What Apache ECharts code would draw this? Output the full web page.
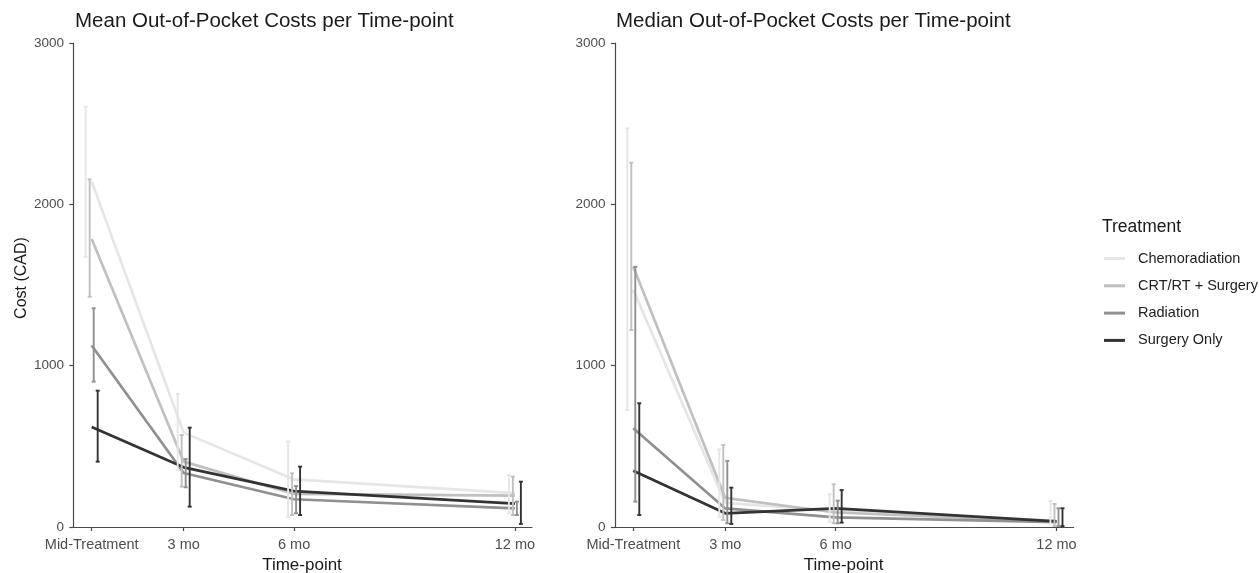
<!DOCTYPE html>
<html>
<head>
<meta charset="utf-8">
<script src="https://cdn.jsdelivr.net/npm/echarts@6/dist/echarts.min.js"></script>
<style>
html,body{margin:0;padding:0;background:#fff;}
#chart{width:1259px;height:573px;}
</style>
</head>
<body>
<div id="chart"></div>
<script>
// ---- data ----
const timepoints = [0.5, 3, 6, 12];
const tickLabels = ['Mid-Treatment', '3 mo', '6 mo', '12 mo'];
const yTicks = [0, 1000, 2000, 3000];
const treatments = ['Chemoradiation', 'CRT/RT + Surgery', 'Radiation', 'Surgery Only'];

// Mean panel
const meanChemo     = [2140, 585, 295, 210];
const meanChemoLo   = [1675, 352, 64, 85];
const meanChemoHi   = [2605, 825, 530, 322];
const meanCRT       = [1785, 405, 205, 195];
const meanCRTLo     = [1427, 250, 74, 74];
const meanCRTHi     = [2155, 570, 333, 312];
const meanRad       = [1125, 335, 172, 115];
const meanRadLo     = [901, 246, 85, 74];
const meanRadHi     = [1356, 421, 254, 157];
const meanSurg      = [620, 370, 222, 145];
const meanSurgLo    = [405, 126, 74, 19];
const meanSurgHi    = [845, 616, 374, 281];

// Median panel
const medChemo      = [1470, 150, 100, 40];
const medChemoLo    = [725, 64, 33, 19];
const medChemoHi    = [2471, 481, 203, 163];
const medCRT        = [1613, 180, 90, 35];
const medCRTLo      = [1221, 43, 23, 6];
const medCRTHi      = [2258, 508, 265, 143];
const medRad        = [612, 115, 60, 30];
const medRadLo      = [157, 23, 23, 6];
const medRadHi      = [1613, 409, 163, 116];
const medSurg       = [349, 85, 115, 35];
const medSurgLo     = [74, 19, 27, 6];
const medSurgHi     = [767, 244, 229, 116];

// ---- styles ----
const colors = ['#E6E6E6', '#C0C0C0', '#909090', '#333333'];
const dodgePx = [-6, -2, 2, 6];
const axisColor = '#4a4a4a';
const tickTextColor = '#4d4d4d';
const FONT = '"Liberation Sans", Arial, sans-serif';

const panels = [
  {mid: [meanChemo, meanCRT, meanRad, meanSurg], lo: [meanChemoLo, meanCRTLo, meanRadLo, meanSurgLo], hi: [meanChemoHi, meanCRTHi, meanRadHi, meanSurgHi]},
  {mid: [medChemo, medCRT, medRad, medSurg], lo: [medChemoLo, medCRTLo, medRadLo, medSurgLo], hi: [medChemoHi, medCRTHi, medRadHi, medSurgHi]}
];

function pairs(vals) { return timepoints.map((t, i) => [t, vals[i]]); }
function triples(lo, hi) { return timepoints.map((t, i) => [t, lo[i], hi[i]]); }

function errSeries(p, k, lo, hi) {
  const color = colors[k];
  const off = dodgePx[k];
  return {
    type: 'custom',
    name: treatments[k] + ' CI ' + p,
    xAxisIndex: p, yAxisIndex: p,
    data: triples(lo, hi),
    encode: {x: 0, y: [1, 2]},
    z: 3,
    renderItem: function (params, api) {
      const x = api.value(0);
      const a = api.coord([x, api.value(1)]);
      const b = api.coord([x, api.value(2)]);
      const cx = a[0] + off;
      const w = 2;
      const st = {stroke: color, lineWidth: 1.9};
      return {
        type: 'group',
        children: [
          {type: 'line', shape: {x1: cx, y1: a[1], x2: cx, y2: b[1]}, style: st},
          {type: 'line', shape: {x1: cx - w, y1: a[1], x2: cx + w, y2: a[1]}, style: st},
          {type: 'line', shape: {x1: cx - w, y1: b[1], x2: cx + w, y2: b[1]}, style: st}
        ]
      };
    }
  };
}

const series = [];
panels.forEach((pd, p) => {
  pd.mid.forEach((vals, k) => {
    series.push({
      type: 'line',
      name: treatments[k],
      xAxisIndex: p, yAxisIndex: p,
      data: pairs(vals),
      symbol: 'none',
      color: colors[k],
      lineStyle: {color: colors[k], width: 2.7},
      z: 2,
      animation: false
    });
  });
  pd.mid.forEach((vals, k) => {
    series.push(errSeries(p, k, pd.lo[k], pd.hi[k]));
  });
});

function xAxisDef(idx) {
  return {
    type: 'value', gridIndex: idx,
    min: -0.035, max: 12.465,
    name: 'Time-point', nameLocation: 'middle', nameGap: 29,
    nameTextStyle: {fontFamily: FONT, fontSize: 17, color: '#1a1a1a'},
    axisLine: {show: true, lineStyle: {color: axisColor, width: 1.2}},
    axisTick: {show: true, customValues: timepoints, length: 4, lineStyle: {color: axisColor, width: 1.2}},
    axisLabel: {customValues: timepoints, margin: 10, fontFamily: FONT, fontSize: 14.5, color: tickTextColor,
      formatter: v => { const i = timepoints.indexOf(v); return i >= 0 ? tickLabels[i] : ''; }},
    splitLine: {show: false}
  };
}
function yAxisDef(idx, withName) {
  return {
    type: 'value', gridIndex: idx,
    min: yTicks[0], max: yTicks[yTicks.length - 1], interval: 1000,
    name: withName ? 'Cost (CAD)' : '', nameLocation: 'middle', nameGap: 42, nameRotate: 90,
    nameTextStyle: {fontFamily: FONT, fontSize: 16, color: '#1a1a1a', padding: [0, 0, 0, 14]},
    axisLine: {show: true, lineStyle: {color: axisColor, width: 1.2}},
    axisTick: {show: true, length: 4, lineStyle: {color: axisColor, width: 1.2}},
    axisLabel: {margin: 8, fontFamily: FONT, fontSize: 13.5, color: tickTextColor,
      formatter: v => String(v)},
    splitLine: {show: false}
  };
}

const option = {
  animation: false,
  backgroundColor: '#ffffff',
  title: [
    {text: 'Mean Out-of-Pocket Costs per Time-point', left: 70, top: 6,
      textStyle: {fontFamily: FONT, fontSize: 20.5, fontWeight: 'normal', color: '#1a1a1a'}},
    {text: 'Median Out-of-Pocket Costs per Time-point', left: 611, top: 6,
      textStyle: {fontFamily: FONT, fontSize: 20.5, fontWeight: 'normal', color: '#1a1a1a'}},
    {text: 'Treatment', left: 1097, top: 213,
      textStyle: {fontFamily: FONT, fontSize: 17.5, fontWeight: 'normal', color: '#1a1a1a'}}
  ],
  legend: {
    data: treatments.map(n => ({name: n, icon: 'rect'})),
    orient: 'vertical', left: 1099, top: 246,
    itemWidth: 21, itemHeight: 3, itemGap: 12.3,
    textStyle: {fontFamily: FONT, fontSize: 14.5, lineHeight: 15, color: '#222', padding: [0, 0, 0, 8]},
    selectedMode: false
  },
  grid: [
    {left: 72, top: 43, width: 460, height: 484, outerBoundsMode: 'none', containLabel: false},
    {left: 613.6, top: 43, width: 460, height: 484, outerBoundsMode: 'none', containLabel: false}
  ],
  xAxis: [xAxisDef(0), xAxisDef(1)],
  yAxis: [yAxisDef(0, true), yAxisDef(1, false)],
  series: series
};

const chart = echarts.init(document.getElementById('chart'), null, {renderer: 'canvas'});
chart.setOption(option);
</script>
</body>
</html>
